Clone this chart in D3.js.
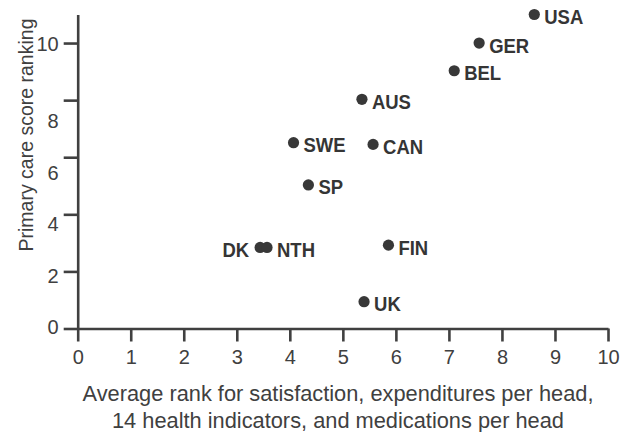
<!DOCTYPE html>
<html>
<head>
<meta charset="utf-8">
<script src="https://cdn.jsdelivr.net/npm/d3@7"></script>
<style>
  body { margin: 0; background: #fff; }
  svg { display: block; }
  .axis path, .axis line { stroke: #404040; stroke-width: 2.6px; }
  .axis text { fill: #404040; font-family: "Liberation Sans", Arial, sans-serif; font-size: 20px; }
  .title { fill: #404040; font-family: "Liberation Sans", Arial, sans-serif; font-size: 21.8px; }
  .ytitle { font-size: 19.5px; }
  .lab { fill: #353535; font-family: "Liberation Sans", Arial, sans-serif; font-weight: bold; font-size: 21px; }
</style>
</head>
<body>
<svg id="chart" width="620" height="432"></svg>
<script>
// countries and their two ranks
var countries = ["USA", "GER", "BEL", "AUS", "SWE", "CAN", "SP", "DK", "NTH", "FIN", "UK"];
var avgRank   = [8.61, 7.57, 7.10, 5.36, 4.07, 5.57, 4.35, 3.44, 3.57, 5.86, 5.40];
var primCare  = [11.0, 10.0, 9.03, 8.03, 6.51, 6.45, 5.03, 2.84, 2.84, 2.92, 0.94];
var labelSide = ["r", "r", "r", "r", "r", "r", "r", "l", "r", "r", "r"];

var xTicks = [0, 1, 2, 3, 4, 5, 6, 7, 8, 9, 10];
var yTicks = [0, 2, 4, 6, 8, 10];

var svg = d3.select("#chart");

var x = d3.scaleLinear().domain([0, 10]).range([77.7, 608]);
var y = d3.scaleLinear().domain([0, 11]).range([328.5, 14.5]);
// the printed y labels drift away from their ticks in the original figure
var yLab = d3.scaleLinear().domain([0, 8]).range([326.7, 120.7]);

var data = countries.map(function(c, i) {
    return {name: c, ax: avgRank[i], pc: primCare[i], side: labelSide[i]};
});

// x axis
var gx = svg.append("g")
    .attr("class", "axis")
    .attr("transform", "translate(0," + y(0) + ")")
    .call(d3.axisBottom(x).tickValues(xTicks).tickSize(13).tickSizeOuter(0).tickFormat(d3.format("d")));
gx.selectAll("text").attr("y", 21).attr("dy", "0.71em");

// y axis
var gy = svg.append("g")
    .attr("class", "axis")
    .attr("transform", "translate(" + x(0) + ",0)")
    .call(d3.axisLeft(y).tickValues(yTicks).tickSize(14).tickSizeOuter(0).tickFormat(d3.format("d")));
gy.selectAll(".tick text")
    .attr("x", -19)
    .attr("dy", "0.36em")
    .attr("transform", function(d) {
        var pos = d <= 8 ? yLab(d) : y(d);
        return "translate(0," + (pos - y(d)) + ")";
    });

// points
svg.selectAll("circle.pt")
    .data(data)
    .enter().append("circle")
    .attr("class", "pt")
    .attr("cx", function(d) { return x(d.ax); })
    .attr("cy", function(d) { return y(d.pc); })
    .attr("r", 5.6)
    .style("fill", "#383838");

// labels, squeezed a little to look like the narrow face in the figure
svg.selectAll("text.lab")
    .data(data)
    .enter().append("text")
    .attr("class", "lab")
    .attr("transform", function(d) {
        var tx = d.side == "l" ? x(d.ax) - 11 : x(d.ax) + 10;
        return "translate(" + tx + "," + (y(d.pc) + 2) + ") scale(0.88,1)";
    })
    .attr("dy", "0.36em")
    .attr("text-anchor", function(d) { return d.side == "l" ? "end" : "start"; })
    .text(function(d) { return d.name; });

// titles
svg.append("text")
    .attr("class", "title ytitle")
    .attr("transform", "translate(33,135) rotate(-90)")
    .attr("text-anchor", "middle")
    .text("Primary care score ranking");

svg.append("text")
    .attr("class", "title")
    .attr("x", 338).attr("y", 401)
    .attr("text-anchor", "middle")
    .text("Average rank for satisfaction, expenditures per head,");
svg.append("text")
    .attr("class", "title")
    .attr("x", 338).attr("y", 428)
    .attr("text-anchor", "middle")
    .text("14 health indicators, and medications per head");
</script>
</body>
</html>
